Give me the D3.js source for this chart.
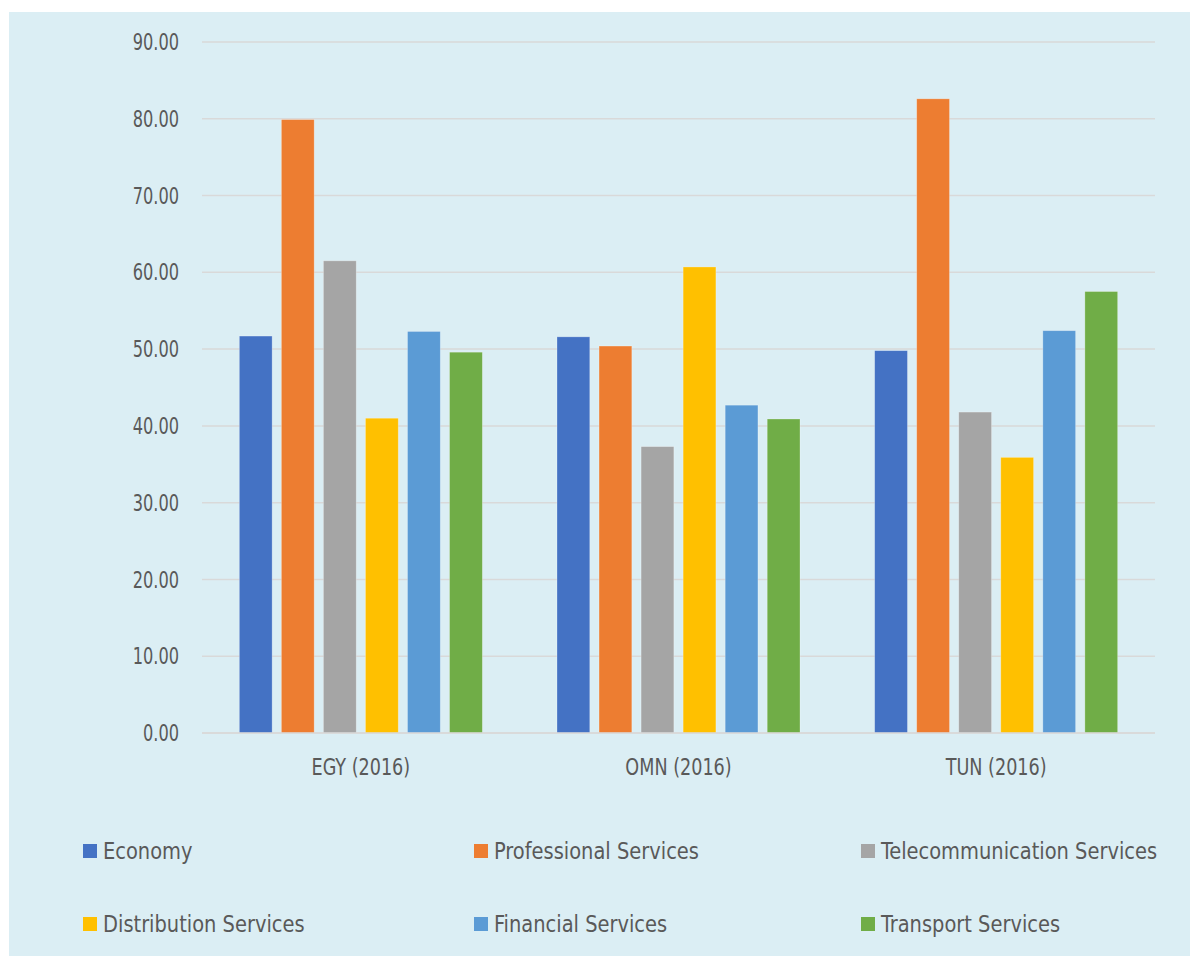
<!DOCTYPE html>
<html>
<head>
<meta charset="utf-8">
<script src="https://cdn.jsdelivr.net/npm/d3@7"></script>
<style>
  html, body { margin: 0; padding: 0; background: #ffffff; }
  svg { display: block; }
  text { font-family: "Liberation Sans Narrow", "DejaVu Sans Condensed", "Roboto", sans-serif; fill: #595959; }
</style>
</head>
<body>
<svg id="chart" width="1190" height="956"></svg>
<script>
// Country groups on the x axis
const categories = ["EGY (2016)", "OMN (2016)", "TUN (2016)"];

// Series names, in drawing order
const seriesNames = [
  "Economy",
  "Professional Services",
  "Telecommunication Services",
  "Distribution Services",
  "Financial Services",
  "Transport Services"
];

const seriesColors = ["#4472c4", "#ed7d31", "#a5a5a5", "#ffc000", "#5b9bd5", "#70ad47"];

// Values per series, one entry per country (EGY, OMN, TUN)
const economy       = [51.7, 51.6, 49.8];
const professional  = [79.9, 50.4, 82.6];
const telecom       = [61.5, 37.3, 41.8];
const distribution  = [41.0, 60.7, 35.9];
const financial     = [52.3, 42.7, 52.4];
const transport     = [49.6, 40.9, 57.5];

const yTicks = [0, 10, 20, 30, 40, 50, 60, 70, 80, 90];

const seriesValues = [economy, professional, telecom, distribution, financial, transport];

const svg = d3.select("#chart");
const W = 1190, H = 956;

// Narrow-looking labels: a larger size squeezed horizontally
function placeText(sel, xFn, yFn, sx) {
  sel.attr("transform", (d, i) => `translate(${xFn(d, i)},${yFn(d, i)}) scale(${sx},1)`);
}

// Panel background
svg.append("rect")
  .attr("x", 9).attr("y", 12)
  .attr("width", W - 9).attr("height", H - 12)
  .attr("fill", "#dbeef4");

const plot = { left: 202, right: 1155, top: 42, bottom: 733 };

const x0 = d3.scaleBand()
  .domain(categories)
  .range([plot.left, plot.right])
  .paddingInner(0)
  .paddingOuter(0);

const groupWidth = 243;
const x1 = d3.scaleBand()
  .domain(seriesNames)
  .range([0, groupWidth])
  .paddingInner(0.22)
  .paddingOuter(0);

const y = d3.scaleLinear()
  .domain([0, 90])
  .range([plot.bottom, plot.top]);

// Horizontal gridlines
svg.append("g")
  .selectAll("line")
  .data(yTicks)
  .join("line")
  .attr("x1", plot.left).attr("x2", plot.right)
  .attr("y1", d => y(d)).attr("y2", d => y(d))
  .attr("stroke", "#d9d9d9")
  .attr("stroke-width", 1.5);

// Y axis labels
svg.append("g")
  .selectAll("text")
  .data(yTicks)
  .join("text")
  .call(placeText, () => 179, d => y(d), 0.8)
  .attr("dy", "0.36em")
  .attr("text-anchor", "end")
  .attr("font-size", 22.5)
  .text(d => d3.format(".2f")(d));

// Bars
const groups = svg.append("g")
  .selectAll("g")
  .data(categories)
  .join("g")
  .attr("transform", d => `translate(${x0(d) + (x0.bandwidth() - groupWidth) / 2},0)`);

groups.selectAll("rect")
  .data((c, ci) => seriesNames.map((s, si) => ({ s, si, v: seriesValues[si][ci] })))
  .join("rect")
  .attr("x", d => x1(d.s))
  .attr("width", x1.bandwidth())
  .attr("y", d => y(d.v))
  .attr("height", d => y(0) - y(d.v))
  .attr("fill", d => seriesColors[d.si])
  .attr("stroke", "rgba(255,255,255,0.35)")
  .attr("stroke-width", 0.75);

// Baseline
svg.append("line")
  .attr("x1", plot.left).attr("x2", plot.right)
  .attr("y1", y(0)).attr("y2", y(0))
  .attr("stroke", "#d9d9d9")
  .attr("stroke-width", 1.5);

// Category labels
svg.append("g")
  .selectAll("text")
  .data(categories)
  .join("text")
  .call(placeText, d => x0(d) + x0.bandwidth() / 2, () => 775, 0.87)
  .attr("text-anchor", "middle")
  .attr("font-size", 22.5)
  .text(d => d);

// Legend: two rows of three
const legendCols = [83, 474, 861];
const legendRows = [851, 924];
const legend = svg.append("g")
  .selectAll("g")
  .data(seriesNames)
  .join("g")
  .attr("transform", (d, i) => `translate(${legendCols[i % 3]},${legendRows[Math.floor(i / 3)]})`);

legend.append("rect")
  .attr("x", 0).attr("y", -7)
  .attr("width", 14).attr("height", 14)
  .attr("fill", (d, i) => seriesColors[i]);

legend.append("text")
  .call(placeText, () => 20, () => 0, 0.94)
  .attr("dy", "0.36em")
  .attr("font-size", 23)
  .text(d => d);
</script>
</body>
</html>
